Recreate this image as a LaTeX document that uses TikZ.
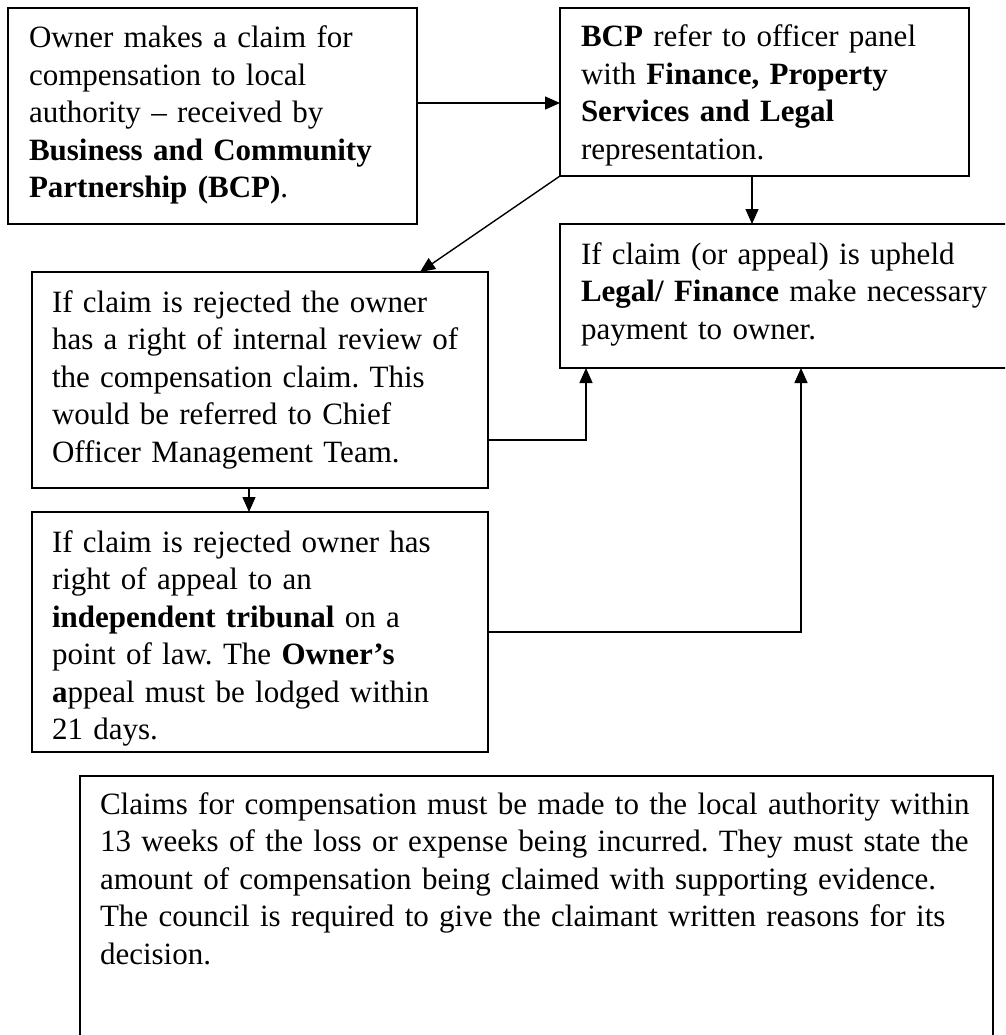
\documentclass[tikz,border=0pt]{standalone}
\usepackage{fontspec}
\setmainfont{Liberation Serif}
\usetikzlibrary{arrows.meta}
\begin{document}
\frenchspacing
\begin{tikzpicture}[x=1pt,y=-1pt,
  box/.style={draw=black, line width=1.6pt, rectangle, inner sep=0pt, outer sep=0pt, anchor=north west},
  txt/.style={anchor=north west, inner sep=0pt, outer sep=0pt, align=left, text width=#1,
    font=\fontsize{31}{37.5}\selectfont\frenchspacing},
  arr/.style={draw=black, line width=1.4pt, -{Triangle[length=15pt,width=13pt]}}
]
\useasboundingbox (0,0) rectangle (1005,1035);
\fill[white] (0,0) rectangle (1005,1035);
\clip (0,0) rectangle (1005,1035);

% boxes
\node[box, minimum width=409pt, minimum height=216pt] (b1) at (8,8) {};
\node[box, minimum width=409pt, minimum height=168pt] (b2) at (560,8) {};
\node[box, minimum width=460pt, minimum height=144pt] (lg) at (560,224) {};
\node[box, minimum width=456pt, minimum height=216pt] (b4) at (32,272) {};
\node[box, minimum width=456pt, minimum height=240pt] (b5) at (32,512) {};
\node[box, minimum width=913pt, minimum height=320pt] (nb) at (80,776) {};

% texts
\node[txt=380pt] (t1) at (29,23) {\rule{0pt}{25pt}Owner makes a claim for\\
compensation to local\\
authority – received by\\
\textbf{Business and Community}\\
\textbf{Partnership (BCP)}.};

\node[txt=380pt] (t2) at (581,22) {\rule{0pt}{25pt}\textbf{BCP} refer to officer panel\\
with \textbf{Finance, Property}\\
\textbf{Services and Legal}\\
representation.};

\node[txt=420pt] (t3) at (581,239) {\rule{0pt}{25pt}If claim (or appeal) is upheld\\
\textbf{Legal/ Finance} make necessary\\
payment to owner.};

\node[txt=430pt] (t4) at (52,287) {\rule{0pt}{25pt}If claim is rejected the owner\\
has a right of internal review of\\
the compensation claim. This\\
would be referred to Chief\\
Officer Management Team.};

\node[txt=430pt] (t5) at (52,527) {\rule{0pt}{25pt}If claim is rejected owner has\\
right of appeal to an\\
\textbf{independent tribunal} on a\\
point of law. The \textbf{Owner’s}\\
\textbf{a}ppeal must be lodged within\\
21 days.};

\node[txt=900pt] (t6) at (100,789) {\rule{0pt}{25pt}Claims for compensation must be made to the local authority within\\
13 weeks of the loss or expense being incurred. They must state the\\
amount of compensation being claimed with supporting evidence.\\
The council is required to give the claimant written reasons for its\\
decision.};

% connectors
\draw[arr] ([yshift=-95pt]b1.north east) -- ([yshift=-95pt]b1.north east -| b2.west);
\draw[arr] ([xshift=192pt]b2.south west) -- ([xshift=192pt]lg.north west);
\draw[arr] (b2.south west) -- ([xshift=388pt]b4.north west);
\draw[arr] ([yshift=-168pt]b4.north east) -| ([xshift=26pt]lg.south west);
\draw[arr] ([xshift=217pt]b4.south west) -- ([xshift=217pt]b5.north west);
\draw[arr] ([yshift=-120pt]b5.north east) -| ([xshift=241pt]lg.south west);
\end{tikzpicture}
\end{document}
